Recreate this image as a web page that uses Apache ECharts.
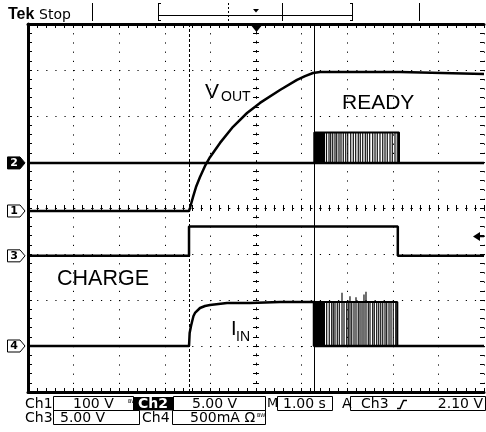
<!DOCTYPE html>
<html>
<head>
<meta charset="utf-8">
<script src="https://cdn.jsdelivr.net/npm/echarts@6/dist/echarts.min.js"></script>
<style>
html,body{margin:0;padding:0;background:#fff;}
#chart{width:486px;height:432px;}
</style>
</head>
<body>
<div id="chart"></div>
<script>
// ---- screen in scope units ----
const timeMin = -5, timeMax = 5;   // seconds from screen centre, 1.00 s/div
const divMin = -4, divMax = 4;     // vertical divisions

// ---- channel set-up ----
const channelLabels = ['1', '2', '3', '4'];
const channelScale  = [100, 5, 5, 500];            // V/div, V/div, V/div, mA/div
const channelOffset = [-0.065, 0.98, -1.04, -3.0]; // ground marker (div from centre)

// ---- Ch1 : VOUT (V) ----
const voutTime  = [-5, -1.469, -1.447, -1.382, -1.316, -1.228, -1.118, -1.009, -0.789, -0.504, -0.197, 0.088, 0.526, 0.899, 1.075, 1.25, 1.404, 3.158, 5];
const voutVolts = [0, 0, 7, 30, 52, 74, 98, 117, 148, 183, 213, 235, 263, 285, 293, 300, 302, 302, 298];

// ---- Ch2 : READY (V) ----
const readyTime  = [-5, 5];
const readyVolts = [0, 0];
const readyHigh  = 3.3;
const readyBlock = [1.278, 1.513];
const readyPulseTime = [1.546, 1.601, 1.638, 1.682, 1.732, 1.770, 1.820, 1.864, 1.914, 1.967, 2.011, 2.077, 2.134, 2.186, 2.243, 2.287, 2.340, 2.397, 2.441, 2.493, 2.559, 2.610, 2.660, 2.719, 2.779, 2.829, 2.879, 2.939, 2.989, 3.048, 3.099, 3.136];

// ---- Ch3 : CHARGE (V) ----
const chargeTime  = [-5, -1.469, -1.469, 3.11, 3.11, 5];
const chargeVolts = [0, 0, 3.2, 3.2, 0, 0];

// ---- Ch4 : IIN (mA) ----
const iinTime = [-5, -1.469, -1.455, -1.425, -1.404, -1.371, -1.338, -1.228, -1.118, -1.009, -0.636, -0.132, 0.526, 1.272, 1.272, 5];
const iinMilliamps = [0, 0, 141, 217, 261, 326, 359, 413, 435, 446, 467, 467, 478, 478, 0, 0];
const iinBurstLevel = 478;
const iinBlock = [1.278, 1.513];
const iinPulseTime = [1.550, 1.607, 1.660, 1.695, 1.732, 1.783, 1.827, 1.886, 1.930, 1.989, 2.024, 2.061, 2.099, 2.149, 2.193, 2.243, 2.281, 2.325, 2.368, 2.412, 2.463, 2.500, 2.559, 2.594, 2.647, 2.691, 2.735, 2.779, 2.829, 2.866, 2.917, 2.961, 3.011, 3.064, 3.099];
const iinPulsePeak = [478, 478, 478, 478, 478, 478, 478, 580, 478, 478, 478, 540, 478, 478, 530, 478, 478, 478, 560, 590, 478, 478, 478, 478, 478, 478, 478, 478, 478, 478, 478, 478, 478, 478, 478];

// ---- cursors and trigger ----
const cursorTime = [-1.469, 1.272];
const triggerLevel = 2.10; // Ch3, volts

// ---- labels ----
const readoutRow1 = ['Ch1', '100 V', 'Ch2', '5.00 V', 'M', '1.00 s', 'A', 'Ch3', '2.10 V'];
const readoutRow2 = ['Ch3', '5.00 V', 'Ch4', '500mA \u03A9'];

// ================= build =================
const zip = (a, b) => a.map((v, i) => [v, b[i]]);
const BLACK = '#000';
const FONT = 'Liberation Sans, Arial, sans-serif';
const RFONT = 'DejaVu Sans, sans-serif';

function borderX(pos, showSplit) {
  return {
    type: 'value', min: timeMin, max: timeMax, interval: 1, position: pos,
    axisLine: { show: true, onZero: false, lineStyle: { color: BLACK, width: 3 } },
    axisTick: { show: true, inside: true, length: 4, lineStyle: { color: BLACK } },
    minorTick: { show: true, splitNumber: 5, length: 4, lineStyle: { color: BLACK } },
    axisLabel: { show: false },
    splitLine: { show: showSplit, lineStyle: { color: BLACK, width: 1, type: [1.2, 8] } }
  };
}
function centreX(inside) {
  return {
    type: 'value', min: timeMin, max: timeMax, interval: 1, position: 'bottom',
    axisLine: { show: true, onZero: true, onZeroAxisIndex: 0, lineStyle: { color: BLACK, width: 1, type: [1.2, 7.92] } },
    axisTick: { show: true, inside: inside, length: 3, lineStyle: { color: BLACK } },
    minorTick: { show: true, splitNumber: 5, length: 3, lineStyle: { color: BLACK } },
    axisLabel: { show: false }, splitLine: { show: false }
  };
}
function borderY(pos, showLine, showSplit) {
  return {
    type: 'value', min: divMin, max: divMax, interval: 1, position: pos,
    axisLine: { show: showLine, onZero: false, lineStyle: { color: BLACK, width: 3 } },
    axisTick: { show: true, inside: true, length: 4, lineStyle: { color: BLACK } },
    minorTick: { show: true, splitNumber: 5, length: 4, lineStyle: { color: BLACK } },
    axisLabel: { show: false },
    splitLine: { show: showSplit, lineStyle: { color: BLACK, width: 1, type: [1.2, 7.92] } }
  };
}
function centreY(inside) {
  return {
    type: 'value', min: divMin, max: divMax, interval: 1, position: 'left',
    axisLine: { show: true, onZero: true, onZeroAxisIndex: 0, lineStyle: { color: BLACK, width: 1, type: [1.2, 8] } },
    axisTick: { show: true, inside: inside, length: 3, lineStyle: { color: BLACK } },
    minorTick: { show: true, splitNumber: 5, length: 3, lineStyle: { color: BLACK } },
    axisLabel: { show: false }, splitLine: { show: false }
  };
}
const channelAxes = channelScale.map((s, i) => ({
  type: 'value', show: false,
  min: (divMin - channelOffset[i]) * s,
  max: (divMax - channelOffset[i]) * s
}));

function pulseRender(params, api) {
  const t = api.value(0);
  const p0 = api.coord([t, api.value(1)]);
  const p1 = api.coord([t, api.value(2)]);
  return { type: 'line', shape: { x1: p0[0], y1: p0[1], x2: p1[0], y2: p1[1] },
           style: { stroke: '#111', lineWidth: 1.2 } };
}
function blockRender(params, api) {
  const p0 = api.coord([api.value(0), api.value(3)]);
  const p1 = api.coord([api.value(1), api.value(2)]);
  return { type: 'rect', shape: { x: p0[0], y: p0[1], width: p1[0] - p0[0], height: p1[1] - p0[1] },
           style: { fill: BLACK } };
}
const trace = (name, yIdx, data, w) => ({
  name, type: 'line', xAxisIndex: 0, yAxisIndex: yIdx, data, showSymbol: false, symbol: 'none',
  lineStyle: { color: BLACK, width: w || 2.5 }, animation: false, z: 5
});

const readyLast = readyPulseTime[readyPulseTime.length - 1];
const iinLast = iinPulseTime[iinPulseTime.length - 1];

const series = [
  Object.assign(trace('Ch1', 4, zip(voutTime, voutVolts)), {
    markLine: {
      silent: true, symbol: ['none', 'none'], label: { show: false }, animation: false,
      data: [
        { xAxis: cursorTime[0], lineStyle: { color: BLACK, width: 1, type: [3, 2] } },
        { xAxis: cursorTime[1], lineStyle: { color: BLACK, width: 1, type: 'solid' } }
      ]
    }
  }),
  trace('Ch2', 5, zip(readyTime, readyVolts)),
  trace('Ch2 top', 5, [[readyBlock[0], 0], [readyBlock[0], readyHigh], [readyLast, readyHigh], [readyLast, 0]], 2),
  { type: 'custom', xAxisIndex: 0, yAxisIndex: 5, renderItem: blockRender, animation: false, z: 4,
    encode: { x: [0, 1], y: [2, 3] }, data: [[readyBlock[0], readyBlock[1], 0, readyHigh]] },
  { type: 'custom', xAxisIndex: 0, yAxisIndex: 5, renderItem: pulseRender, animation: false, z: 4,
    encode: { x: 0, y: [1, 2] }, data: readyPulseTime.map(t => [t, 0, readyHigh]) },
  trace('Ch3', 6, zip(chargeTime, chargeVolts)),
  trace('Ch4', 7, zip(iinTime, iinMilliamps)),
  trace('Ch4 top', 7, [[iinBlock[0], iinBurstLevel], [iinLast, iinBurstLevel], [iinLast, 0]], 2),
  { type: 'custom', xAxisIndex: 0, yAxisIndex: 7, renderItem: blockRender, animation: false, z: 4,
    encode: { x: [0, 1], y: [2, 3] }, data: [[iinBlock[0], iinBlock[1], 0, iinBurstLevel]] },
  { type: 'custom', xAxisIndex: 0, yAxisIndex: 7, renderItem: pulseRender, animation: false, z: 4,
    encode: { x: 0, y: [1, 2] }, data: iinPulseTime.map((t, i) => [t, 0, iinPulsePeak[i]]) }
];

const chart = echarts.init(document.getElementById('chart'), null, { renderer: 'canvas' });
chart.setOption({
  animation: false,
  backgroundColor: '#fff',
  grid: { left: 28, top: 24, width: 456, height: 368, containLabel: false },
  xAxis: [borderX('bottom', true), borderX('top', false), centreX(true), centreX(false)],
  yAxis: [borderY('left', true, true), borderY('right', false, false), centreY(true), centreY(false)].concat(channelAxes),
  series: series
});

// ---------- decorations ----------
const g = [];
const txt = (text, x, y, font, opts) => g.push(Object.assign({
  type: 'text', silent: true, z: 20,
  style: Object.assign({ text, x, y, font, fill: BLACK, textAlign: 'left', textVerticalAlign: 'middle' }, opts || {})
}));
const line = (x1, y1, x2, y2, w, dash) => g.push({
  type: 'line', silent: true, z: 20,
  shape: { x1, y1, x2, y2 }, style: { stroke: BLACK, lineWidth: w || 1, lineDash: dash || null }
});
const rect = (x, y, w, h, fill) => g.push({
  type: 'rect', silent: true, z: 19, shape: { x, y, width: w, height: h },
  style: fill ? { fill: BLACK } : { fill: 'none', stroke: BLACK, lineWidth: 1 }
});

// top status bar
txt('Tek', 8, 15, 'bold 16px ' + FONT);
txt('Stop', 39, 15, '14px ' + RFONT);
line(92.5, 3, 92.5, 21);
line(158.5, 3, 158.5, 21); line(158.5, 3.5, 161, 3.5); line(158.5, 20.5, 161, 20.5);
line(352.5, 3, 352.5, 21); line(350, 3.5, 352.5, 3.5); line(350, 20.5, 352.5, 20.5);
line(158.5, 15.5, 352.5, 15.5);
line(228.5, 3, 228.5, 21, 1, [2, 2]);
line(282.5, 3, 282.5, 21);
line(419.5, 3, 419.5, 21);
const xc = chart.convertToPixel({ xAxisIndex: 0 }, 0);
g.push({ type: 'polygon', silent: true, z: 20, shape: { points: [[xc - 3, 9], [xc + 3, 9], [xc, 12.5]] }, style: { fill: BLACK } });
g.push({ type: 'polygon', silent: true, z: 20, shape: { points: [[xc - 6, 24], [xc + 7, 24], [xc + 0.5, 32]] }, style: { fill: BLACK } });

// channel ground markers
channelLabels.forEach((lab, i) => {
  const cy = chart.convertToPixel({ yAxisIndex: 4 + i }, 0);
  const inv = lab === '2';
  g.push({ type: 'polygon', silent: true, z: 20,
    shape: { points: [[7.5, cy - 6], [20, cy - 6], [25, cy], [20, cy + 6], [7.5, cy + 6]] },
    style: { fill: inv ? BLACK : '#fff', stroke: BLACK, lineWidth: 1 } });
  txt(lab, 14, cy + 0.5, 'bold 11px ' + RFONT, { fill: inv ? '#fff' : BLACK, textAlign: 'center' });
});

// trigger level arrow (Ch3)
const ty = chart.convertToPixel({ yAxisIndex: 6 }, triggerLevel);
g.push({ type: 'polygon', silent: true, z: 20, shape: { points: [[473, ty], [480, ty - 4.5], [480, ty + 4.5]] }, style: { fill: BLACK } });
line(480, ty, 484, ty, 1.5);

// trace annotations
txt('V', 205, 92, '21px ' + FONT);
txt('OUT', 221, 97.5, '14px ' + FONT);
txt('READY', 342, 103.5, '21px ' + FONT);
txt('CHARGE', 57, 279.5, '21.5px ' + FONT);
txt('I', 231, 329.5, '20px ' + FONT);
txt('IN', 236, 337.5, '14px ' + FONT);

// bottom readouts
const RF = '14px ' + RFONT;
const r1 = 404, r2 = 418;
txt(readoutRow1[0], 25, r1, RF);
rect(53.5, 396.5, 80, 14);
txt(readoutRow1[1], 73, r1, RF);
txt('BW', 128, r1 - 2, '5px ' + RFONT);
rect(133, 397, 40, 13.5, true);
txt(readoutRow1[2], 153, r1, 'bold 14px ' + RFONT, { fill: '#fff', textAlign: 'center' });
rect(173.5, 396.5, 92, 14);
txt(readoutRow1[3], 192, r1, RF);
txt(readoutRow1[4], 267, r1, '13px ' + RFONT);
rect(277.5, 396.5, 55, 14);
txt(readoutRow1[5], 283, r1, RF);
txt(readoutRow1[6], 342, r1, RF);
rect(350.5, 396.5, 135, 14);
txt(readoutRow1[7], 361, r1, RF);
g.push({ type: 'polyline', silent: true, z: 20, shape: { points: [[397, 408.5], [400, 408.5], [403.5, 400.5], [407, 400.5]] }, style: { stroke: BLACK, lineWidth: 1.5, fill: null } });
txt(readoutRow1[8], 483, r1, RF, { textAlign: 'right' });

txt(readoutRow2[0], 25, r2, RF);
rect(53.5, 410.5, 86, 14);
txt(readoutRow2[1], 60, r2, RF);
txt(readoutRow2[2], 142, r2, RF);
rect(172.5, 410.5, 93, 14);
txt(readoutRow2[3], 190, r2, RF);
txt('BW', 257, r2 - 2, '5px ' + RFONT);

chart.setOption({ graphic: g });
</script>
</body>
</html>
